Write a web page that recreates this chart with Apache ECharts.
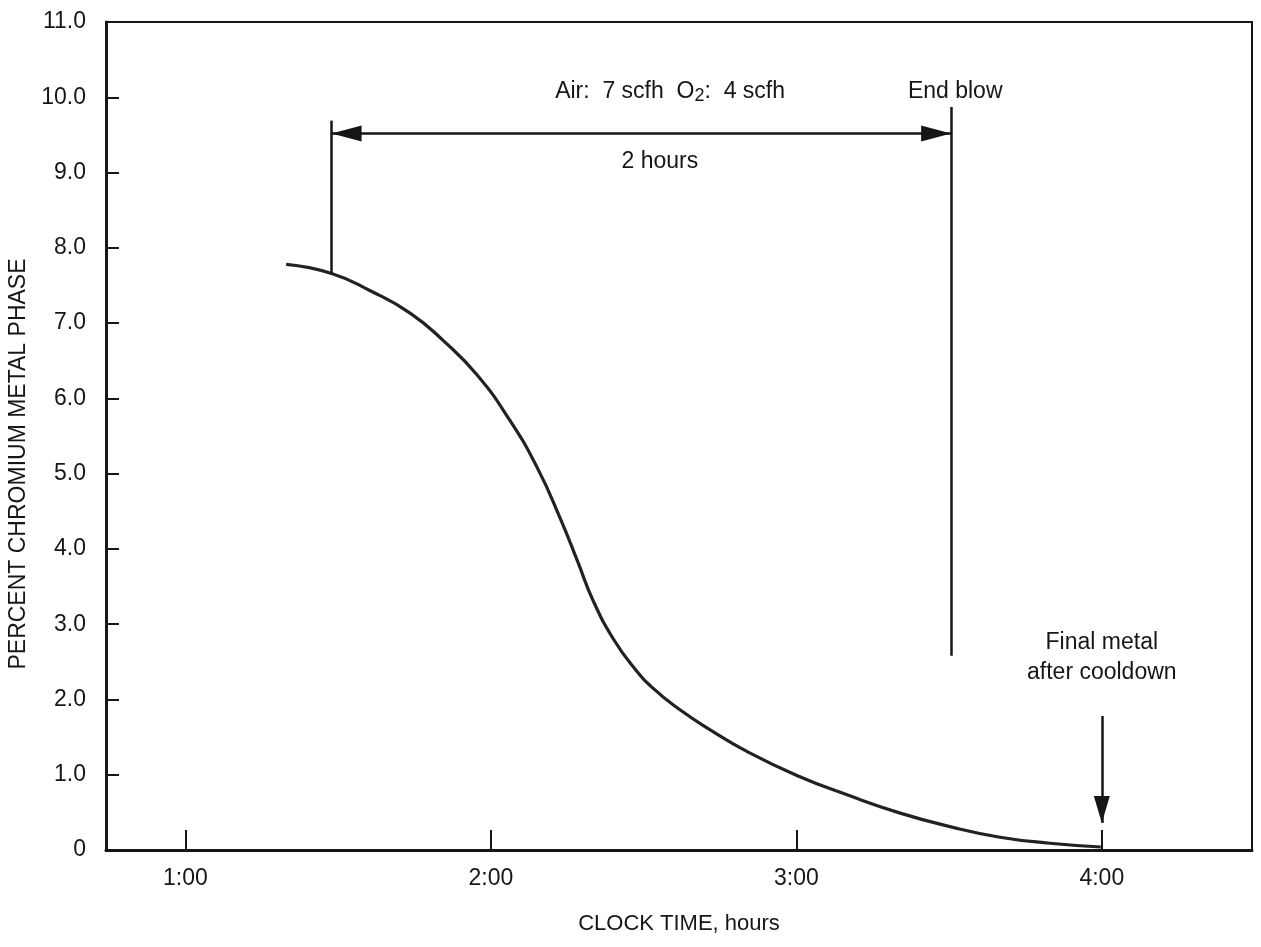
<!DOCTYPE html>
<html>
<head>
<meta charset="utf-8">
<title>Percent chromium in metal phase vs clock time</title>
<script src="https://cdn.jsdelivr.net/npm/echarts@6/dist/echarts.min.js"></script>
<style>
  html, body { margin: 0; padding: 0; background: #fff; }
  #chart { width: 1261px; height: 947px; }
</style>
</head>
<body>
<div id="chart"></div>
<script>
// clock time (minutes after 0:00) and % Cr in the metal phase
var timeMin = [79.8, 88.7, 96.3, 104.2, 110.6, 117.3, 123.8, 129.1, 133.6, 137.0, 140.1, 144.0,
               148.0, 152.0, 157.0, 163.0, 170.0, 180.1, 190.5, 200.4, 210.2, 220.0, 229.8, 239.8];
var chromium = [7.78, 7.66, 7.43, 7.13, 6.77, 6.31, 5.70, 5.08, 4.41, 3.84, 3.31, 2.81,
                2.43, 2.14, 1.87, 1.60, 1.32, 0.99, 0.72, 0.49, 0.31, 0.17, 0.09, 0.04];

var hourTicks = [60, 120, 180, 240];

// blow period (start / end blow markers and the 2 hour span arrow)
var blowStart = 88.7, blowEnd = 210.4;
var startBar = [9.69, 7.66];
var endBar = [9.87, 2.58];
var spanArrowY = 9.52;

// final metal after cooldown
var cooldownTime = 240;
var cooldownArrow = [1.78, 0.36];

var FONT = 'Liberation Sans, Arial, Helvetica, sans-serif';
var INK = '#161616';

function clock(v) {
    var h = Math.floor(v / 60), m = Math.round(v - h * 60);
    return h + ':' + (m < 10 ? '0' + m : m);
}

function note(x, y, text) {
    return { coord: [x, y], value: text };
}

var chart = echarts.init(document.getElementById('chart'), null, { renderer: 'canvas' });

chart.setOption({
    animation: false,
    backgroundColor: '#fff',
    textStyle: { fontFamily: FONT, color: INK },
    grid: {
        left: 106, right: 9, top: 22, bottom: 97,
        show: true, borderColor: INK, borderWidth: 2,
        outerBoundsMode: 'none'
    },
    xAxis: {
        type: 'value',
        min: 44.4,
        max: 269.5,
        name: 'CLOCK TIME, hours',
        nameLocation: 'middle',
        nameGap: 63,
        nameTextStyle: { fontFamily: FONT, fontSize: 22, color: INK },
        axisLine: { lineStyle: { color: INK, width: 3 } },
        axisTick: { customValues: hourTicks, inside: true, length: 20, lineStyle: { color: INK, width: 2 } },
        axisLabel: { customValues: hourTicks, formatter: clock, margin: 17, fontFamily: FONT, fontSize: 23, color: INK },
        splitLine: { show: false }
    },
    yAxis: {
        type: 'value',
        min: 0,
        max: 11,
        interval: 1,
        name: 'PERCENT CHROMIUM METAL PHASE',
        nameLocation: 'middle',
        nameGap: 74,
        // right padding pushes the rotated title a little below the axis middle
        nameTextStyle: { fontFamily: FONT, fontSize: 23, color: INK, padding: [0, 56, 0, 0] },
        axisLine: { lineStyle: { color: INK, width: 3 } },
        axisTick: { inside: true, length: 13, lineStyle: { color: INK, width: 2 } },
        axisLabel: {
            margin: 20, fontFamily: FONT, fontSize: 23, color: INK,
            formatter: function (v) { return v === 0 ? '0' : v.toFixed(1); }
        },
        splitLine: { show: false }
    },
    series: [
        {
            name: 'chromium',
            type: 'line',
            data: timeMin.map(function (t, i) { return [t, chromium[i]]; }),
            showSymbol: false,
            smooth: 0.5,
            lineStyle: { color: '#222', width: 3.2 },
            z: 3
        },
        {
            // plain vertical markers: start of blow and end blow
            type: 'line',
            data: [],
            markLine: {
                silent: true,
                symbol: ['none', 'none'],
                label: { show: false },
                lineStyle: { color: INK, width: 2.5, type: 'solid' },
                data: [
                    [{ coord: [blowStart, startBar[0]] }, { coord: [blowStart, startBar[1]] }],
                    [{ coord: [blowEnd, endBar[0]] }, { coord: [blowEnd, endBar[1]] }]
                ]
            }
        },
        {
            // 2 hour span arrow and cooldown arrow
            type: 'line',
            data: [],
            markLine: {
                silent: true,
                label: { show: false },
                lineStyle: { color: INK, width: 2.5, type: 'solid' },
                itemStyle: { color: '#2b2b2b' },
                data: [
                    [
                        { coord: [blowStart, spanArrowY], symbol: 'triangle', symbolSize: [16, 30], symbolOffset: [0, 15] },
                        { coord: [blowEnd, spanArrowY], symbol: 'triangle', symbolSize: [16, 30], symbolOffset: [0, 15] }
                    ],
                    [
                        { coord: [cooldownTime, cooldownArrow[0]], symbol: 'none' },
                        { coord: [cooldownTime, cooldownArrow[1]], symbol: 'triangle', symbolSize: [16, 27], symbolOffset: [0, 13.5] }
                    ]
                ]
            }
        },
        {
            // text notes
            type: 'line',
            data: [],
            markPoint: {
                silent: true,
                symbol: 'circle',
                symbolSize: 0,
                label: {
                    show: true,
                    position: 'inside',
                    formatter: '{c}',
                    fontFamily: FONT,
                    fontSize: 23,
                    color: INK,
                    lineHeight: 30,
                    rich: {
                        sub: { fontFamily: FONT, fontSize: 18, color: INK, padding: [10, 0, 0, 0] }
                    }
                },
                data: [
                    note(155.2, 10.08, 'Air:  7 scfh  O{sub|2}:  4 scfh'),
                    note(211.2, 10.08, 'End blow'),
                    note(153.2, 9.14, '2 hours'),
                    note(cooldownTime, 2.55, 'Final metal\nafter cooldown')
                ]
            }
        }
    ]
});
</script>
</body>
</html>
